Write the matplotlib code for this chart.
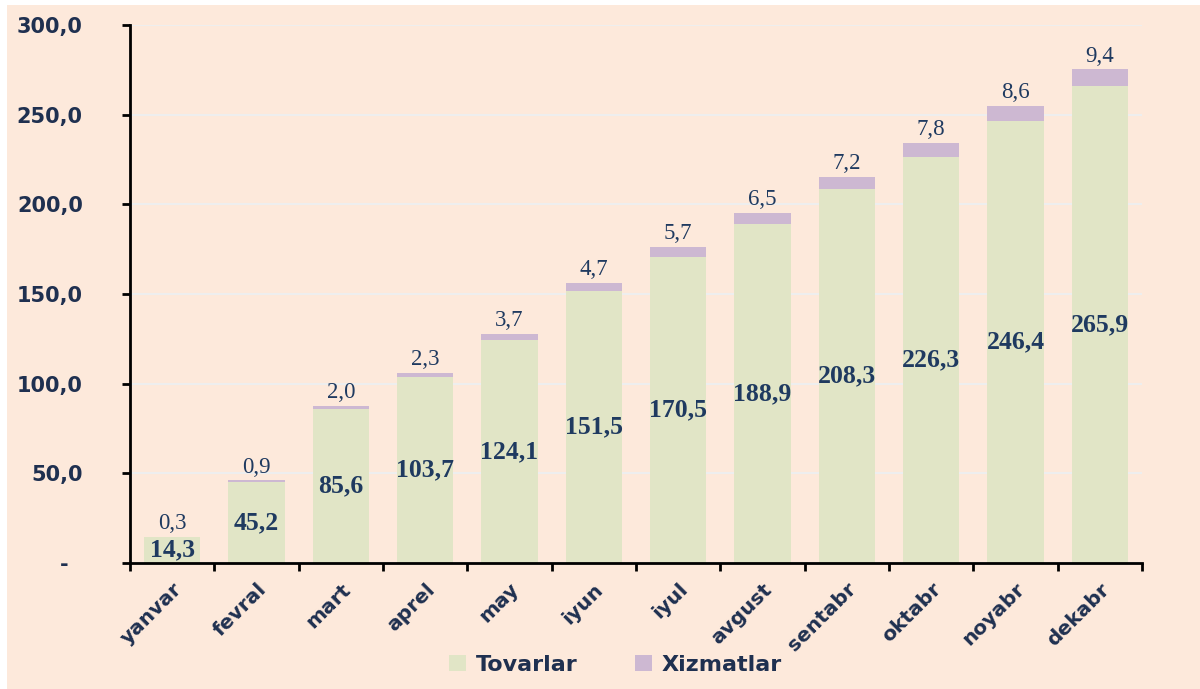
import matplotlib
matplotlib.use("Agg")
import matplotlib.pyplot as plt
from matplotlib.patches import Rectangle
import numpy as np

months = ["yanvar", "fevral", "mart", "aprel", "may", "iyun", "iyul",
          "avgust", "sentabr", "oktabr", "noyabr", "dekabr"]
tovarlar = [14.3, 45.2, 85.6, 103.7, 124.1, 151.5, 170.5, 188.9, 208.3, 226.3, 246.4, 265.9]
xizmatlar = [0.3, 0.9, 2.0, 2.3, 3.7, 4.7, 5.7, 6.5, 7.2, 7.8, 8.6, 9.4]
yticks = [0, 50, 100, 150, 200, 250, 300]
ytick_labels = ["-  ", "50,0", "100,0", "150,0", "200,0", "250,0", "300,0"]

bg = "#FDE9DB"
green = "#E1E5C6"
purple = "#CDB8D2"
navy = "#1F3050"
label_navy = "#1F3A60"

fig = plt.figure(figsize=(12, 6.89), dpi=100, facecolor="white")
fig.patches.append(Rectangle((7/1200, 0), 1, 1 - 5/689, transform=fig.transFigure,
                             facecolor=bg, edgecolor="none", zorder=-10))
ax = fig.add_axes([130/1200, 1 - 563/689, 1012/1200, (563 - 25)/689])
ax.set_facecolor("none")

x = np.arange(len(months))
w = 0.665
ax.bar(x, tovarlar, width=w, color=green, label="Tovarlar", zorder=2)
ax.bar(x, xizmatlar, width=w, bottom=tovarlar, color=purple, label="Xizmatlar", zorder=2)

for xi, t, s in zip(x, tovarlar, xizmatlar):
    ax.text(xi, t / 2, f"{t:.1f}".replace(".", ","), ha="center", va="center",
            fontsize=18.5, fontweight="bold", family="Liberation Serif", color=label_navy, zorder=3)
    ax.text(xi, t + s + 1.5, f"{s:.1f}".replace(".", ","), ha="center", va="bottom",
            fontsize=16.5, family="Liberation Serif", color=label_navy, zorder=3)

ax.set_xlim(-0.5, len(months) - 0.5)
ax.set_ylim(0, 300)
ax.set_yticks(yticks)
ax.set_yticklabels(ytick_labels, fontsize=15, fontweight="bold", family="DejaVu Sans", color=navy)
ax.yaxis.grid(True, color="#EEEEEE", linewidth=1.5, zorder=1)
ax.set_axisbelow(True)

ax.set_xticks(x)
ax.set_xticklabels(months, rotation=45, ha="right", rotation_mode="anchor",
                   fontsize=14.5, fontweight="bold", family="DejaVu Sans", color=navy)
ax.tick_params(axis="x", which="major", length=0, pad=12)
ax.set_xticks(np.arange(-0.5, len(months), 1), minor=True)
ax.tick_params(axis="x", which="minor", length=6, width=2, color="black")
ax.tick_params(axis="y", length=6, width=2, color="black", pad=28)

for side in ["top", "right"]:
    ax.spines[side].set_visible(False)
for side in ["left", "bottom"]:
    ax.spines[side].set_linewidth(2)
    ax.spines[side].set_color("black")

leg = fig.legend(loc="lower center", bbox_to_anchor=(0.513, -0.008), ncol=2, frameon=False,
                 prop={"family": "DejaVu Sans", "weight": "bold", "size": 16},
                 handlelength=0.75, handleheight=0.75, columnspacing=2.6, handletextpad=0.45)
for t in leg.get_texts():
    t.set_color(navy)

fig.savefig("out.png", dpi=100, facecolor=fig.get_facecolor())
